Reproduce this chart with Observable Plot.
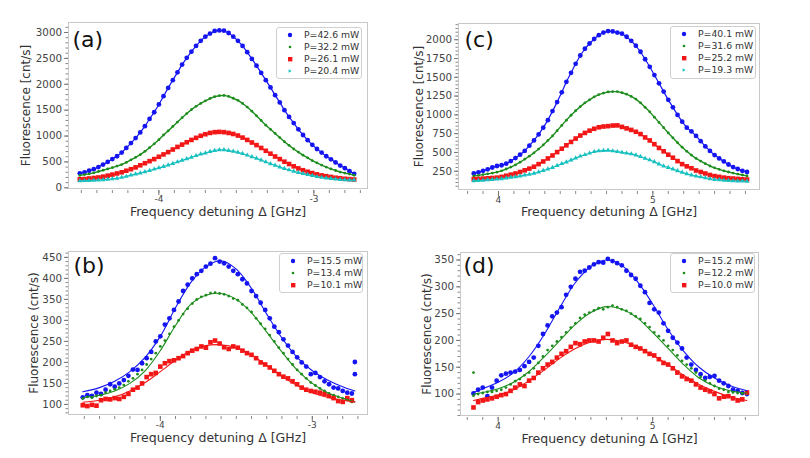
<!DOCTYPE html>
<html><head><meta charset="utf-8">
<script src="https://cdn.jsdelivr.net/npm/d3@7"></script>
<script src="https://cdn.jsdelivr.net/npm/@observablehq/plot@0.6"></script>
<style>
body{margin:0;background:#fff;font-family:"DejaVu Sans",sans-serif;}
#root{position:relative;width:810px;height:458px;overflow:hidden;background:#fff}
.panel{position:absolute}
.legend{position:absolute;background:#fff;border:1px solid #cfcfcf;border-radius:3px;box-sizing:border-box;padding-top:1px;font-size:9.3px;color:#333}
.legend .row{position:relative;height:12px;line-height:12px}
.legend svg{position:absolute;left:9px;top:2px}
.legend span{position:absolute;left:27px;top:0;white-space:nowrap}
</style></head><body><div id="root"></div>
<script>
// ---------- data ----------
const xL = [-4.51,-4.48,-4.45,-4.42,-4.39,-4.36,-4.33,-4.30,-4.27,-4.24,
 -4.21,-4.18,-4.15,-4.12,-4.09,-4.06,-4.03,-4.00,-3.97,-3.94,
 -3.91,-3.88,-3.85,-3.82,-3.79,-3.76,-3.73,-3.70,-3.67,-3.64,
 -3.61,-3.58,-3.55,-3.52,-3.49,-3.46,-3.43,-3.40,-3.37,-3.34,
 -3.31,-3.28,-3.25,-3.22,-3.19,-3.16,-3.13,-3.10,-3.07,-3.04,
 -3.01,-2.98,-2.95,-2.92,-2.89,-2.86,-2.83,-2.80,-2.77,-2.74];
const xR = [3.84,3.87,3.90,3.93,3.96,3.99,4.02,4.05,4.08,4.11,
 4.14,4.17,4.20,4.23,4.26,4.29,4.32,4.35,4.38,4.41,
 4.44,4.47,4.50,4.53,4.56,4.59,4.62,4.65,4.68,4.71,
 4.74,4.77,4.80,4.83,4.86,4.89,4.92,4.95,4.98,5.01,
 5.04,5.07,5.10,5.13,5.16,5.19,5.22,5.25,5.28,5.31,
 5.34,5.37,5.40,5.43,5.46,5.49,5.52,5.55,5.58,5.61];

// panel (a)
const aBlue = [280,300,330,360,400,450,500,555,610,680,
 770,865,960,1070,1190,1330,1460,1610,1770,1930,
 2080,2230,2380,2510,2630,2740,2840,2920,2980,3030,
 3040,3035,2990,2920,2840,2740,2620,2490,2360,2220,
 2080,1940,1790,1650,1500,1370,1250,1130,1020,920,
 830,750,680,610,550,490,430,380,320,270];
const aGreen = [240,255,270,290,315,340,365,390,420,450,
 490,540,590,640,705,775,850,930,1020,1100,
 1185,1270,1355,1435,1510,1575,1630,1680,1725,1760,
 1780,1785,1765,1730,1690,1630,1560,1480,1390,1300,
 1210,1130,1050,970,890,820,750,690,630,580,
 525,480,440,400,365,335,305,285,265,245];
const aRed = [165,170,180,190,200,215,235,255,277,300,
 330,360,395,435,475,515,555,600,645,690,
 740,790,835,880,925,965,1005,1035,1060,1075,
 1080,1075,1060,1040,1010,970,925,875,825,770,
 715,660,605,555,505,460,415,375,340,310,
 285,260,240,225,210,195,185,175,168,160];
const aCyan = [135,138,140,143,147,155,165,175,185,200,
 220,245,265,285,310,335,360,385,410,440,
 470,500,530,560,590,620,650,670,700,720,
 735,735,720,705,685,660,630,600,570,535,
 500,465,435,400,370,345,320,295,275,255,
 235,215,200,188,178,168,160,155,150,148];

// panel (c)
const cBlue = [220,235,255,275,300,320,330,350,385,425,
 470,520,590,660,740,830,930,1050,1170,1300,
 1440,1560,1680,1790,1880,1950,2010,2060,2095,2115,
 2110,2095,2080,2040,1985,1920,1840,1740,1640,1530,
 1420,1310,1200,1100,1000,910,830,780,720,650,
 580,520,465,420,380,340,305,280,255,240];
const cGreen = [188,195,205,215,225,238,255,280,305,335,
 370,410,450,495,545,600,660,720,790,860,
 930,995,1055,1110,1160,1200,1240,1270,1290,1305,
 1310,1310,1295,1275,1245,1210,1160,1100,1040,970,
 900,830,760,695,630,570,515,465,420,385,
 350,320,295,275,255,240,225,212,200,188];
const cRed = [145,148,152,156,160,165,175,190,205,220,
 240,262,285,310,345,380,420,460,505,550,
 595,640,685,725,760,790,815,835,845,850,
 858,860,840,820,800,775,745,700,660,610,
 560,515,470,430,385,345,315,290,260,240,
 220,200,185,175,165,158,153,148,143,140];
const cCyan = [122,126,130,135,140,144,150,158,168,175,
 185,198,210,222,240,260,280,300,325,350,
 372,398,425,450,470,490,510,520,525,528,
 520,510,500,490,480,465,445,420,400,375,
 345,320,300,280,255,235,215,200,185,175,
 162,150,140,135,130,125,122,120,118,117];

// panel (b)
const bBlue = [117,122,120,128,125,135,148,142,150,158,
 168,183,182,198,210,225,250,262,290,305,
 325,345,370,385,400,410,418,428,435,448,
 440,436,428,418,410,398,388,370,358,342,
 325,305,285,272,255,240,225,212,200,190,
 172,175,165,155,148,140,138,132,128,126];
const bGreen = [114,118,116,120,122,128,132,136,140,146,
 155,162,172,182,195,208,222,238,252,268,
 285,300,315,328,340,350,356,360,365,366,
 364,362,358,352,348,338,330,320,305,292,
 280,265,250,235,222,208,195,182,172,162,
 152,145,138,132,126,122,118,114,110,106];
const bRed = [98,96,99,97,110,113,112,115,113,118,
 125,135,140,150,165,172,175,190,198,203,
 205,210,215,222,228,232,238,235,248,252,
 245,236,232,238,235,228,222,218,210,200,
 195,188,180,172,166,162,155,148,140,135,
 132,130,128,125,120,115,108,106,115,110];
const bBlueOutX = [-2.72,-2.72];
const bBlueOutY = [201,172];

// panel (d)
const dBlue = [101,108,112,96,112,125,135,138,140,142,
 145,152,160,168,190,212,228,245,252,262,
 285,300,315,328,330,336,342,346,345,352,
 348,344,340,330,322,315,302,290,270,258,
 252,232,218,205,196,185,168,155,145,137,
 130,132,134,125,120,115,108,106,102,100];
const dGreen = [97,100,102,104,104,106,108,112,118,124,
 128,135,140,148,158,170,182,190,198,206,
 215,224,232,242,248,252,256,260,258,262,
 265,262,258,255,250,245,240,232,225,215,
 208,200,190,182,172,162,155,148,140,132,
 125,120,115,110,108,104,103,102,101,100];
const dRed = [75,85,88,90,92,95,98,100,106,112,
 118,115,125,130,140,148,155,160,168,175,
 180,188,195,193,198,200,200,198,205,212,
 200,195,198,200,192,188,185,180,175,172,
 165,158,155,148,140,133,128,125,118,112,
 108,105,100,92,95,96,92,88,90,103];
const dGreenOutX = [3.84];
const dGreenOutY = [140];

// fitted curves (b) and (d)
const fitXL = [-4.51,-4.4,-4.3,-4.2,-4.1,-4.0,-3.9,-3.8,-3.7,-3.6,-3.5,-3.4,-3.3,-3.2,-3.1,-3.0,-2.9,-2.8,-2.72];
const bBlueFit  = [130,140,155,178,212,262,330,390,428,442,422,376,315,258,212,180,158,142,132];
const bGreenFit = [116,122,132,150,180,228,288,338,360,364,350,318,272,225,182,150,128,115,106];
const bRedFit   = [105,110,118,132,152,178,205,228,240,242,235,218,193,167,145,128,117,110,106];
const fitXR = [3.84,3.9,4.0,4.1,4.2,4.3,4.4,4.5,4.6,4.7,4.8,4.9,5.0,5.1,5.2,5.3,5.4,5.5,5.61];
const dBlueFit  = [103,110,122,140,170,212,262,308,338,350,340,310,268,220,180,150,130,116,106];
const dGreenFit = [100,103,110,122,142,170,200,230,252,263,258,242,215,185,155,130,115,106,102];
const dRedFit   = [88,92,98,108,125,145,167,185,197,202,198,188,172,155,135,118,105,95,88];

// ticks and labels
const xMajorL = [-4,-3];
const xMajorR = [4,5];
const yMajorA = [0,500,1000,1500,2000,2500,3000];
const yMajorC = [250,500,750,1000,1250,1500,1750,2000];
const yMajorB = [100,150,200,250,300,350,400,450];
const yMajorD = [100,150,200,250,300,350];
const legendA = ["P=42.6 mW","P=32.2 mW","P=26.1 mW","P=20.4 mW"];
const legendC = ["P=40.1 mW","P=31.6 mW","P=25.2 mW","P=19.3 mW"];
const legendB = ["P=15.5 mW","P=13.4 mW","P=10.1 mW"];
const legendD = ["P=15.2 mW","P=12.2 mW","P=10.0 mW"];
const xTitle = "Frequency detuning Δ [GHz]";
const yTitleTop = "Fluorescence [cnt/s]";
const yTitleBottom = "Fluorescence (cnt/s)";

// ---------- styling ----------
const COL = {blue:"#1515f2", green:"#1c8c1c", red:"#f21616", cyan:"#18c0c0"};
const STY = {
  blue:{symbol:"circle", r:2.4},
  green:{symbol:"circle", r:1.4},
  red:{symbol:"square", r:2.6},
  cyan:{symbol:"triangle", r:1.8}
};

const rows = (xs, ys) => xs.map((x, i) => ({x, y: ys[i]}));

function makePanel(cfg) {
  const marks = [Plot.frame({stroke:"#c8c8c8"})];
  marks.push(Plot.axisY(cfg.yMinor, {tickSize:2.5, tickFormat:() => "", stroke:"#888", label:null}));
  marks.push(Plot.axisY(cfg.yMajor, {tickSize:4, tickPadding:2.5, tickFormat:d => String(d), fontSize:10.3, fill:"#444", stroke:"#777", label:null}));
  marks.push(Plot.axisX(cfg.xMinor, {tickSize:3, dy:2, tickFormat:() => "", stroke:"#888", label:null}));
  marks.push(Plot.axisX(cfg.xMajor, {tickSize:5, dy:2, tickPadding:0, tickFormat:d => String(d), fontSize:9, fill:"#444", stroke:"#777", label:null}));
  for (const s of cfg.series) {
    const data = rows(cfg.x, s.y);
    if (s.thin) marks.push(Plot.line(data, {x:"x", y:"y", stroke:COL[s.c], strokeWidth:s.c === "green" ? 1.4 : 1.2}));
    marks.push(Plot.dot(data, {x:"x", y:"y", fill:COL[s.c], r:STY[s.c].r, symbol:STY[s.c].symbol}));
  }
  for (const e of (cfg.extra || [])) {
    marks.push(Plot.dot(rows(e.x, e.y), {x:"x", y:"y", fill:COL[e.c], r:STY[e.c].r, symbol:STY[e.c].symbol}));
  }
  for (const f of (cfg.fits || [])) {
    marks.push(Plot.line(rows(cfg.fitX, f.y), {x:"x", y:"y", stroke:COL[f.c], strokeWidth:1.1, curve:"catmull-rom"}));
  }
  marks.push(Plot.text([cfg.label], {text:d => d, frameAnchor:"top-left", textAnchor:"start", lineAnchor:"top", dx:cfg.labDx, dy:cfg.labDy, fontSize:22, fill:"#111"}));
  marks.push(Plot.text([xTitle], {text:d => d, frameAnchor:"bottom", lineAnchor:"middle", dy:cfg.xtDy, fontSize:12.5, fill:"#333"}));
  marks.push(Plot.text([cfg.yTitle], {text:d => d, frameAnchor:"left", rotate:-90, textAnchor:"middle", lineAnchor:"middle", dx:cfg.ytDx, fontSize:12, fill:"#333"}));

  const plot = Plot.plot({
    width: cfg.w, height: cfg.h,
    marginTop: cfg.m[0], marginRight: cfg.m[1], marginBottom: cfg.m[2], marginLeft: cfg.m[3],
    x: {domain: cfg.xd, label: null},
    y: {domain: cfg.yd, label: null},
    style: {fontFamily: "DejaVu Sans, sans-serif", background: "transparent", overflow: "visible"},
    marks
  });
  const div = document.createElement("div");
  div.className = "panel";
  div.style.left = cfg.left + "px";
  div.style.top = cfg.top + "px";
  div.appendChild(plot);
  document.getElementById("root").appendChild(div);
}

function markerSvg(c) {
  const col = COL[c];
  let shape;
  if (c === "blue") shape = `<circle cx="4" cy="4" r="2.2" fill="${col}"/>`;
  else if (c === "green") shape = `<circle cx="4" cy="4" r="1.3" fill="${col}"/>`;
  else if (c === "red") shape = `<rect x="2" y="2" width="4.4" height="4.4" fill="${col}"/>`;
  else shape = `<path d="M2.6,2.3 L5.6,4 L2.6,5.7 Z" fill="${col}"/>`;
  return `<svg width="8" height="8">${shape}</svg>`;
}

function makeLegend(labels, colors, box) {
  const d = document.createElement("div");
  d.className = "legend";
  Object.assign(d.style, {left: box[0] + "px", top: box[1] + "px", width: box[2] + "px", height: box[3] + "px"});
  d.innerHTML = labels.map((t, i) => `<div class="row">${markerSvg(colors[i])}<span>${t}</span></div>`).join("");
  document.getElementById("root").appendChild(d);
}

const minorL = d3.range(-45, -26).map(v => v / 10);
const minorR = d3.range(38, 57).map(v => v / 10);

makePanel({left:0, top:0, w:405, h:229, m:[22,38,41,68], x:xL,
  xd:[-4.583,-2.654], yd:[-13,3193], xMajor:xMajorL, xMinor:minorL,
  yMajor:yMajorA, yMinor:d3.range(0, 3200, 100),
  series:[{c:"blue",y:aBlue,thin:true},{c:"green",y:aGreen,thin:true},{c:"red",y:aRed,thin:true},{c:"cyan",y:aCyan,thin:true}],
  label:"(a)", labDx:4, labDy:9, xtDy:23, ytDx:-42, yTitle:yTitleTop});

makePanel({left:405, top:0, w:405, h:229, m:[23,51,40,53], x:xR,
  xd:[3.741,5.691], yd:[7,2216], xMajor:xMajorR, xMinor:minorR,
  yMajor:yMajorC, yMinor:d3.range(50, 2250, 50),
  series:[{c:"blue",y:cBlue,thin:true},{c:"green",y:cGreen,thin:true},{c:"red",y:cRed,thin:true},{c:"cyan",y:cCyan,thin:true}],
  label:"(c)", labDx:6, labDy:8, xtDy:22, ytDx:-39, yTitle:yTitleTop});

makePanel({left:0, top:229, w:405, h:229, m:[22,38,44,68], x:xL,
  xd:[-4.604,-2.637], yd:[76,464], xMajor:xMajorL, xMinor:minorL,
  yMajor:yMajorB, yMinor:d3.range(80, 470, 10),
  series:[{c:"blue",y:bBlue},{c:"green",y:bGreen},{c:"red",y:bRed}],
  extra:[{c:"blue",x:bBlueOutX,y:bBlueOutY}],
  fitX:fitXL, fits:[{c:"blue",y:bBlueFit},{c:"green",y:bGreenFit},{c:"red",y:bRedFit}],
  label:"(b)", labDx:5, labDy:6, xtDy:23, ytDx:-34, yTitle:yTitleBottom});

makePanel({left:405, top:229, w:405, h:229, m:[23,52,43,55], x:xR,
  xd:[3.756,5.685], yd:[60,364], xMajor:xMajorR, xMinor:minorR,
  yMajor:yMajorD, yMinor:d3.range(60, 370, 10),
  series:[{c:"blue",y:dBlue},{c:"green",y:dGreen},{c:"red",y:dRed}],
  extra:[{c:"green",x:dGreenOutX,y:dGreenOutY}],
  fitX:fitXR, fits:[{c:"blue",y:dBlueFit},{c:"green",y:dGreenFit},{c:"red",y:dRedFit}],
  label:"(d)", labDx:3, labDy:5, xtDy:23, ytDx:-33, yTitle:yTitleBottom});

makeLegend(legendA, ["blue","green","red","cyan"], [276,27,86,52]);
makeLegend(legendC, ["blue","green","red","cyan"], [670,26,86,53]);
makeLegend(legendB, ["blue","green","red"], [279,253,84,40]);
makeLegend(legendD, ["blue","green","red"], [670,253,85,40]);
</script></body></html>
